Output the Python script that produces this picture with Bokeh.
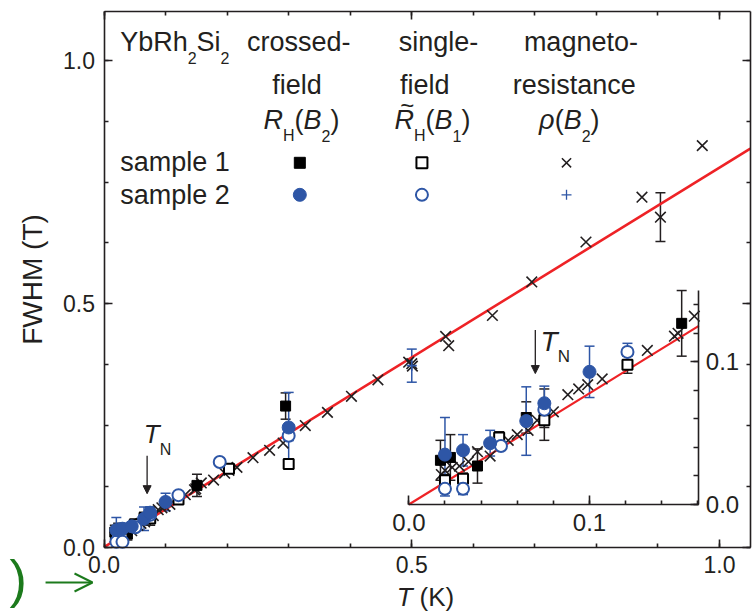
import numpy as np
from bokeh.plotting import figure
from bokeh.models import (Range1d, LinearAxis, SingleIntervalTicker, PrintfTickFormatter,
                          ColumnDataSource, Whisker, TeeHead, Label, Arrow, NormalHead, OpenHead)
from bokeh.embed import file_html
from bokeh.resources import INLINE

# ---------------- data (T in K, FWHM in T) ----------------
FIT_T = [0.0, 1.05]
FIT_F = [0.0, 0.819]
FIT_T_INSET = [0.0, 0.1605]
FIT_F_INSET = [0.0, 0.1252]

# sample 1, crossed-field R_H(B2)  (black filled squares)
S1_CROSS_T = [0.0175, 0.023, 0.038, 0.065, 0.075, 0.151, 0.295]
S1_CROSS_F = [0.031, 0.033, 0.027, 0.061, 0.063, 0.127, 0.290]
S1_CROSS_E = [0.014, 0.016, 0.012, 0.011, 0.018, 0.023, 0.027]

# sample 2, crossed-field R_H(B2)  (blue filled circles)
S2_CROSS_T = [0.020, 0.030, 0.045, 0.065, 0.075, 0.100, 0.300]
S2_CROSS_F = [0.035, 0.038, 0.043, 0.0585, 0.071, 0.093, 0.246]
S2_CROSS_E = [0.026, 0.011, 0.009, 0.024, 0.012, 0.018, 0.072]

# sample 1, single-field R~_H(B1)  (black open squares)
S1_SINGLE_T = [0.020, 0.030, 0.050, 0.075, 0.121, 0.203, 0.300]
S1_SINGLE_F = [0.017, 0.018, 0.047, 0.059, 0.098, 0.161, 0.171]
S1_SINGLE_E = [0.004, 0.004, 0.004, 0.005, 0.006, 0.006, 0.010]

# sample 2, single-field R~_H(B1)  (blue open circles)
S2_SINGLE_T = [0.020, 0.030, 0.051, 0.075, 0.121, 0.188, 0.300]
S2_SINGLE_F = [0.011, 0.011, 0.041, 0.0665, 0.107, 0.175, 0.229]
S2_SINGLE_E = [0.005, 0.004, 0.003, 0.004, 0.006, 0.005, 0.010]

# sample 1, magnetoresistance rho(B2)  (black x)
S1_MR_T = [0.018, 0.020, 0.024, 0.028, 0.033, 0.038, 0.045, 0.055, 0.060, 0.066,
           0.071, 0.080, 0.088, 0.094, 0.099, 0.107, 0.132, 0.147, 0.149, 0.158,
           0.178, 0.196, 0.203, 0.216, 0.242, 0.269, 0.291, 0.327, 0.363, 0.402,
           0.445, 0.495, 0.500, 0.501, 0.555, 0.560, 0.631, 0.695, 0.783, 0.874,
           0.904, 0.972]
S1_MR_F = [0.021, 0.024, 0.026, 0.027, 0.030, 0.037, 0.034, 0.045, 0.049, 0.052,
           0.059, 0.065, 0.077, 0.081, 0.084, 0.088, 0.108, 0.118, 0.120, 0.132,
           0.138, 0.152, 0.158, 0.164, 0.184, 0.199, 0.214, 0.250, 0.277, 0.310,
           0.344, 0.380, 0.377, 0.372, 0.433, 0.414, 0.476, 0.545, 0.627, 0.719,
           0.678, 0.825]
S1_MR_ERR_T = [0.904]
S1_MR_ERR_F = [0.678]
S1_MR_ERR_E = [0.050]

# sample 2, magnetoresistance rho(B2)  (blue +)
S2_MR_T = [0.500]
S2_MR_F = [0.373]
S2_MR_E = [0.034]

TN = 0.07

# ---------------- axes / layout constants ----------------
X_VIEW = (-0.1682, 1.0552)      # whole canvas width in T units
Y_VIEW = (-0.1341, 1.1231)      # whole canvas height in FWHM units
X_AXIS = (0.0, 1.05)
Y_AXIS = (0.0, 1.10)
INSET_X = (0.0, 0.1605)
INSET_Y = (0.0, 0.15)
INSET_BOX = (0.4952, 0.9664, 0.0877, 0.5273)   # inset frame in main data coords

FONT = "Liberation Sans"
TXT = "#231f20"
AXC = "#231f20"
BLUE = "#2e56a6"
RED = "#ee2226"
GREEN = "#1c7a1c"
BASE_FIX = 0.31   # compensates the label baseline placement (fraction of font size)

ADV = {'Y': 667, 'b': 556, 'R': 722, 'h': 556, 'S': 667, 'i': 222, '2': 556, '1': 556,
       'H': 722, '(': 333, ')': 333, 'B': 667, 'ρ': 578, 'T': 611, 'N': 722, ' ': 278,
       'K': 667}


def text_width(s, size):
    return sum(ADV.get(c, 556) for c in s) * size / 1000.0


p = figure(width=753, height=612, x_range=Range1d(*X_VIEW), y_range=Range1d(*Y_VIEW),
           x_axis_type=None, y_axis_type=None,
           output_backend="svg", toolbar_location=None,
           min_border_left=0, min_border_right=0, min_border_top=0, min_border_bottom=0)
p.grid.visible = False
p.outline_line_color = None
p.background_fill_color = "white"
p.border_fill_color = "white"

kx = (INSET_X[1] - INSET_X[0]) / (INSET_BOX[1] - INSET_BOX[0])
ky = (INSET_Y[1] - INSET_Y[0]) / (INSET_BOX[3] - INSET_BOX[2])
p.extra_x_ranges = {"ix": Range1d(INSET_X[0] - (INSET_BOX[0] - X_VIEW[0]) * kx,
                                  INSET_X[0] + (X_VIEW[1] - INSET_BOX[0]) * kx)}
p.extra_y_ranges = {"iy": Range1d(INSET_Y[0] - (INSET_BOX[2] - Y_VIEW[0]) * ky,
                                  INSET_Y[0] + (Y_VIEW[1] - INSET_BOX[2]) * ky)}


def style_axis(ax, size="23px", standoff=9, major=8, minor=4, labels=True):
    ax.major_tick_in = major
    ax.major_tick_out = 0
    ax.minor_tick_in = minor
    ax.minor_tick_out = 0
    ax.axis_line_width = 1.6
    ax.axis_line_color = AXC
    ax.major_tick_line_width = 1.6
    ax.minor_tick_line_width = 1.6
    ax.major_tick_line_color = AXC
    ax.minor_tick_line_color = AXC
    ax.major_label_text_font = FONT
    ax.major_label_text_font_size = size
    ax.major_label_text_color = TXT if labels else None
    ax.major_label_text_alpha = 1.0 if labels else 0.0
    ax.major_label_standoff = standoff


def make_axis(side, interval, minors, loc, bounds, labels=True, size="23px", standoff=9,
              major=8, minor=4, **kw):
    ax = LinearAxis(fixed_location=loc, bounds=bounds,
                    ticker=SingleIntervalTicker(interval=interval, num_minor_ticks=minors),
                    formatter=PrintfTickFormatter(format="%.1f"), **kw)
    style_axis(ax, size=size, standoff=standoff, major=major, minor=minor, labels=labels)
    p.add_layout(ax, side)
    return ax


# main frame axes
xa = make_axis("below", 0.5, 5, Y_AXIS[0], X_AXIS, standoff=9)
ya = make_axis("left", 0.5, 4, X_AXIS[0], Y_AXIS, standoff=9)
ya.axis_label = "FWHM (T)"
ya.axis_label_text_font = FONT
ya.axis_label_text_font_size = "28px"
ya.axis_label_text_font_style = "normal"
ya.axis_label_text_color = TXT
ya.axis_label_standoff = 13
make_axis("above", 0.5, 5, Y_AXIS[1], X_AXIS, labels=False, size="1px", standoff=0)
make_axis("right", 0.5, 4, X_AXIS[1], Y_AXIS, labels=False, size="1px", standoff=0)

# inset axes
make_axis("below", 0.1, 5, INSET_Y[0], INSET_X, size="24px", standoff=9, major=9, minor=4,
          x_range_name="ix", y_range_name="iy")
make_axis("right", 0.1, 5, INSET_X[1], INSET_Y, size="24px", standoff=7, major=8, minor=5,
          x_range_name="ix", y_range_name="iy")

# ---------------- plotting ----------------
SERIES = [
    # T, F, E, marker, size, fill, line, line_width
    (S1_MR_T, S1_MR_F, None, "x", 15, None, TXT, 1.6),
    (S1_CROSS_T, S1_CROSS_F, S1_CROSS_E, "square", 10, "black", "black", 1.0),
    (S1_SINGLE_T, S1_SINGLE_F, S1_SINGLE_E, "square", 10, "white", "black", 2.0),
    (S2_MR_T, S2_MR_F, S2_MR_E, "cross", 10, None, BLUE, 1.6),
    (S2_SINGLE_T, S2_SINGLE_F, S2_SINGLE_E, "circle", 12, "white", BLUE, 2.0),
    (S2_CROSS_T, S2_CROSS_F, S2_CROSS_E, "circle", 13, BLUE, BLUE, 1.0),
]


def add_whisker(xs, lo, hi, color, **kw):
    src = ColumnDataSource(dict(x=list(xs), lo=list(lo), hi=list(hi)))
    p.add_layout(Whisker(source=src, base="x", upper="hi", lower="lo", dimension="height",
                         line_color=color, line_width=1.5,
                         upper_head=TeeHead(size=10, line_color=color, line_width=1.5),
                         lower_head=TeeHead(size=10, line_color=color, line_width=1.5), **kw))


def draw(ts, fs, es, marker, size, fill, line, lw, color_err, inset):
    kw = dict(x_range_name="ix", y_range_name="iy") if inset else {}
    ts = np.asarray(ts, float)
    fs = np.asarray(fs, float)
    mask = ts <= INSET_X[1] if inset else np.ones(len(ts), bool)
    if es is not None:
        es = np.asarray(es, float)
        add_whisker(ts[mask], (fs - es)[mask], (fs + es)[mask], color_err, **kw)
    p.scatter(ts[mask], fs[mask], marker=marker, size=size,
              fill_color=fill if fill else None, line_color=line, line_width=lw, **kw)


# fit lines
p.line(FIT_T, FIT_F, line_color=RED, line_width=2.6)
p.line(FIT_T_INSET, FIT_F_INSET, line_color=RED, line_width=2.2,
       x_range_name="ix", y_range_name="iy")

add_whisker(S1_MR_ERR_T, np.array(S1_MR_ERR_F) - np.array(S1_MR_ERR_E),
            np.array(S1_MR_ERR_F) + np.array(S1_MR_ERR_E), TXT)
for inset in (False, True):
    for (ts, fs, es, marker, size, fill, line, lw) in SERIES:
        err_c = BLUE if line == BLUE else TXT
        draw(ts, fs, es, marker, size, fill, line, lw, err_c, inset)


# ---------------- texts ----------------
def label(x, y, text, size, style="normal", align="left", dx=0.0, dy=0.0, color=TXT, **kw):
    p.add_layout(Label(x=x, y=y, x_offset=dx, y_offset=dy + BASE_FIX * size, text=text,
                       text_font=FONT, text_font_size=f"{size}px", text_font_style=style,
                       text_color=color, text_align=align, text_baseline="alphabetic", **kw))


def rich(x, y, segs, align="left", **kw):
    # segs: (text, size, style, dy, gap_before_px)
    total = sum(text_width(t, s) + g for t, s, _, _, g in segs)
    off = {"left": 0.0, "center": -total / 2.0, "right": -total}[align]
    starts = []
    for t, s, style, dy, g in segs:
        off += g
        starts.append(off)
        label(x, y, t, s, style=style, dx=off, dy=dy, **kw)
        off += text_width(t, s)
    return starts


FS, SUB, SUBDY = 27, 16, -12
ROW1, ROW2, ROW3, ROW4, ROW5 = 1.0203, 0.9326, 0.8595, 0.7738, 0.7054
MROW1, MROW2 = 0.7897, 0.7239
COL0 = 0.0262
COL1 = dict(top=0.3163, mid=0.3134, sym=0.3207, mark=0.3181)
COL2 = dict(top=0.5435, mid=0.5212, sym=0.5337, mark=0.5165)
COL3 = dict(top=0.7748, mid=0.7641, sym=0.756, mark=0.7514)

rich(COL0, ROW1, [("YbRh", FS, "normal", 0, 0), ("2", SUB, "normal", SUBDY, 0),
                  ("Si", FS, "normal", 0, 0), ("2", SUB, "normal", SUBDY, 0)])
label(COL1["top"], ROW1, "crossed-", FS, align="center")
label(COL1["mid"], ROW2, "field", FS, align="center")
rich(COL1["sym"], ROW3, [("R", FS, "italic", 0, 0), ("H", SUB, "normal", SUBDY, 0),
                         ("(", FS, "normal", 0, 0), ("B", FS, "italic", 0, 0),
                         ("2", SUB, "normal", SUBDY, 0), (")", FS, "normal", 0, 0)],
     align="center")
label(COL2["top"], ROW1, "single-", FS, align="center")
label(COL2["mid"], ROW2, "field", FS, align="center")
st = rich(COL2["sym"], ROW3, [("R", FS, "italic", 0, 0), ("H", SUB, "normal", SUBDY, 0),
                              ("(", FS, "normal", 0, 0), ("B", FS, "italic", 0, 0),
                              ("1", SUB, "normal", SUBDY, 0), (")", FS, "normal", 0, 0)],
          align="center")
label(COL2["sym"], ROW3, "~", 24, align="center", dx=st[0] + text_width("R", FS) / 2 + 3, dy=16)
label(COL3["top"], ROW1, "magneto-", FS, align="center")
label(COL3["mid"], ROW2, "resistance", FS, align="center")
rich(COL3["sym"], ROW3, [("ρ", FS, "italic", 0, 0), ("(", FS, "normal", 0, 0),
                         ("B", FS, "italic", 0, 0), ("2", SUB, "normal", SUBDY, 0),
                         (")", FS, "normal", 0, 0)], align="center")
label(COL0, ROW4, "sample 1", FS)
label(COL0, ROW5, "sample 2", FS)

# legend keys
p.scatter([COL1["mark"]], [MROW1], marker="square", size=11, fill_color="black", line_color="black")
p.scatter([COL2["mark"]], [MROW1], marker="square", size=11, fill_color="white", line_color="black", line_width=2)
p.scatter([COL3["mark"]], [MROW1], marker="x", size=13, line_color=TXT, line_width=1.5)
p.scatter([COL1["mark"]], [MROW2], marker="circle", size=13, fill_color=BLUE, line_color=BLUE)
p.scatter([COL2["mark"]], [MROW2], marker="circle", size=12, fill_color="white", line_color=BLUE, line_width=2)
p.scatter([COL3["mark"]], [MROW2], marker="cross", size=10, line_color=BLUE, line_width=1.3)

# T_N annotations
rich(0.0647, 0.2157, [("T", 26, "italic", 0, 0), ("N", SUB, "normal", SUBDY, 0)])
p.add_layout(Arrow(x_start=TN, y_start=0.188, x_end=TN, y_end=0.110, line_color=TXT, line_width=1.3,
                   end=NormalHead(size=8, fill_color=TXT, line_color=TXT)))
rich(0.0729, 0.1082, [("T", 28, "italic", 0, 0), ("N", 17, "normal", SUBDY, 0)],
     x_range_name="ix", y_range_name="iy")
p.add_layout(Arrow(x_start=TN, y_start=0.1223, x_end=TN, y_end=0.0918, line_color=TXT, line_width=1.3,
                   end=NormalHead(size=8, fill_color=TXT, line_color=TXT),
                   x_range_name="ix", y_range_name="iy"))

# x axis title
rich(0.5222, -0.1198, [("T", 26, "italic", 0, 0), ("(K)", 26, "normal", 0, 7)], align="center")

# cropped green fragment at lower left
label(-0.1535, -0.0992, ")", 52, color=GREEN)
p.add_layout(Arrow(x_start=-0.095, y_start=-0.0725, x_end=-0.0187, y_end=-0.0725,
                   line_color=GREEN, line_width=2,
                   end=OpenHead(size=18, line_color=GREEN, line_width=2)))

open("out.html", "w").write(file_html(p, INLINE))
